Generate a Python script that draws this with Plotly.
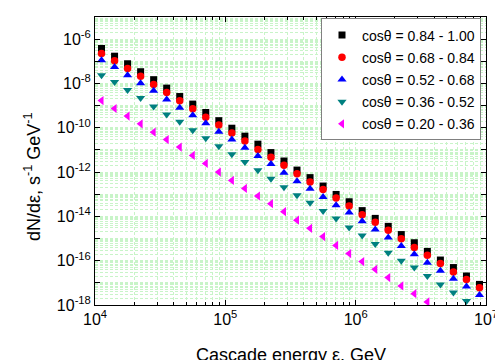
import plotly.graph_objects as go

# Cascade energy (GeV)
energy = [1.122e4, 1.413e4, 1.778e4, 2.239e4, 2.818e4, 3.548e4, 4.467e4, 5.623e4, 7.079e4, 8.913e4,
          1.122e5, 1.413e5, 1.778e5, 2.239e5, 2.818e5, 3.548e5, 4.467e5, 5.623e5, 7.079e5, 8.913e5,
          1.122e6, 1.413e6, 1.778e6, 2.239e6, 2.818e6, 3.548e6, 4.467e6, 5.623e6, 7.079e6, 8.913e6]

flux_084_100 = [3.80e-7, 1.70e-7, 7.76e-8, 3.39e-8, 1.48e-8, 6.17e-9, 2.57e-9, 1.17e-9, 4.90e-10, 2.09e-10,
                9.55e-11, 4.17e-11, 1.82e-11, 7.59e-12, 3.16e-12, 1.23e-12, 5.62e-13, 2.34e-13, 9.77e-14, 4.57e-14,
                1.82e-14, 8.13e-15, 3.55e-15, 1.51e-15, 6.46e-16, 2.63e-16, 1.07e-16, 4.90e-17, 2.04e-17, 8.51e-18]
flux_068_084 = [2.24e-7, 1.05e-7, 4.79e-8, 2.09e-8, 8.91e-9, 3.89e-9, 1.66e-9, 7.24e-10, 3.02e-10, 1.32e-10,
                5.75e-11, 2.51e-11, 1.05e-11, 4.68e-12, 2.04e-12, 8.51e-13, 3.55e-13, 1.62e-13, 6.76e-14, 2.95e-14,
                1.20e-14, 5.37e-15, 2.34e-15, 9.77e-16, 3.89e-16, 1.74e-16, 7.41e-17, 3.09e-17, 1.41e-17, 6.03e-18]
flux_052_068 = [1.12e-7, 5.50e-8, 2.34e-8, 1.02e-8, 4.68e-9, 1.91e-9, 7.94e-10, 3.63e-10, 1.58e-10, 6.61e-11,
                2.95e-11, 1.26e-11, 5.25e-12, 2.29e-12, 9.33e-13, 3.89e-13, 1.78e-13, 7.41e-14, 3.16e-14, 1.48e-14,
                6.03e-15, 2.57e-15, 1.10e-15, 4.57e-16, 1.95e-16, 8.13e-17, 3.55e-17, 1.55e-17, 6.76e-18, 2.82e-18]
flux_036_052 = [2.34e-8, 1.15e-8, 5.01e-9, 2.19e-9, 9.12e-10, 3.98e-10, 1.86e-10, 7.76e-11, 3.39e-11, 1.48e-11,
                6.31e-12, 2.82e-12, 1.20e-12, 5.01e-13, 2.09e-13, 8.91e-14, 4.17e-14, 1.74e-14, 7.94e-15, 3.16e-15,
                1.38e-15, 5.62e-16, 2.29e-16, 1.00e-16, 4.90e-17, 2.04e-17, 8.32e-18, 3.63e-18, 1.51e-18]
flux_020_036 = [1.70e-9, 7.41e-10, 3.39e-10, 1.51e-10, 6.31e-11, 2.95e-11, 1.35e-11, 5.62e-12, 2.45e-12, 1.00e-12,
                4.17e-13, 1.82e-13, 8.32e-14, 3.72e-14, 1.62e-14, 6.76e-15, 2.88e-15, 1.23e-15, 4.90e-16, 2.09e-16,
                9.12e-17, 4.07e-17, 1.74e-17, 7.24e-18, 3.24e-18, 1.38e-18]

series_names = ["cos\u03b8 = 0.84 - 1.00", "cos\u03b8 = 0.68 - 0.84", "cos\u03b8 = 0.52 - 0.68",
                "cos\u03b8 = 0.36 - 0.52", "cos\u03b8 = 0.20 - 0.36"]
series_values = [flux_084_100, flux_068_084, flux_052_068, flux_036_052, flux_020_036]
series_colors = ["#000000", "#ff0000", "#0000ff", "#008080", "#ff00ff"]
series_symbols = ["square", "circle", "triangle-up", "triangle-down", "triangle-left"]
series_sizes = [7, 7.5, 8, 8, 8]

x_major = [1e4, 1e5, 1e6, 1e7]
x_major_text = ["10<sup>4</sup>", "10<sup>5</sup>", "10<sup>6</sup>", "10<sup>7</sup>"]
y_exps = list(range(-18, -4))
y_major = [10.0 ** e for e in y_exps]
y_major_text = [("10<sup>%d</sup>" % e) if e % 2 == 0 else "" for e in y_exps]

def minor_vals(lo, hi):
    return [m * 10.0 ** e for e in range(lo, hi) for m in range(2, 10)]

fig = go.Figure()
for name, vals, col, sym, sz in zip(series_names, series_values, series_colors, series_symbols, series_sizes):
    fig.add_trace(go.Scatter(
        x=energy[:len(vals)], y=vals, mode="markers", name=name, legendgroup=name,
        marker=dict(symbol=sym, color=col, size=sz, line=dict(width=0)),
    ))

grid_col = "#c8f4c8"
font_family = "Liberation Sans, Arial, sans-serif"

fig.update_layout(
    template="none",
    width=495, height=360,
    margin=dict(l=95, r=9, t=17, b=55),
    paper_bgcolor="white", plot_bgcolor="white",
    font=dict(family=font_family, size=14, color="black"),
    showlegend=True,
    legend=dict(
        x=0.578, y=0.995, xanchor="left", yanchor="top",
        bgcolor="white", bordercolor="#808080", borderwidth=1,
        font=dict(family=font_family, size=14, color="black"),
        tracegroupgap=1,
    ),
    xaxis=dict(
        type="log", range=[4, 7], automargin=False, ticklabeloverflow="allow",
        showline=True, linecolor="black", linewidth=1, mirror="allticks",
        ticks="inside", ticklen=5, tickcolor="black",
        tickmode="array", tickvals=x_major, ticktext=x_major_text,
        showgrid=True, gridcolor=grid_col, griddash="3px,2px", gridwidth=1,
        zeroline=False,
        minor=dict(tickmode="array", tickvals=minor_vals(4, 7), ticks="inside", ticklen=3,
                   tickcolor="black", showgrid=True, gridcolor=grid_col, griddash="3px,2px"),
        tickfont=dict(size=16),
    ),
    yaxis=dict(
        type="log", range=[-18, -5], automargin=False, ticklabeloverflow="allow",
        showline=True, linecolor="black", linewidth=1, mirror="allticks",
        ticks="inside", ticklen=5, tickcolor="black",
        tickmode="array", tickvals=y_major, ticktext=y_major_text,
        showgrid=True, gridcolor=grid_col, griddash="3px,2px", gridwidth=1,
        zeroline=False,
        minor=dict(tickmode="array", tickvals=minor_vals(-18, -5), ticks="",
                   showgrid=True, gridcolor=grid_col, griddash="3px,2px"),
        tickfont=dict(size=16),
    ),
    annotations=[
        dict(text="Cascade energy \u03b5, GeV", xref="paper", yref="paper", x=0.5, y=-0.172,
             xanchor="center", yanchor="middle", showarrow=False, font=dict(size=18)),
        dict(text="dN/d\u03b5, s<sup>-1</sup> GeV<sup>-1</sup>", xref="paper", yref="paper",
             x=-0.1586, y=0.448, xanchor="center", yanchor="middle", textangle=-90,
             showarrow=False, font=dict(size=18)),
    ],
)

fig.write_html("out.html")
